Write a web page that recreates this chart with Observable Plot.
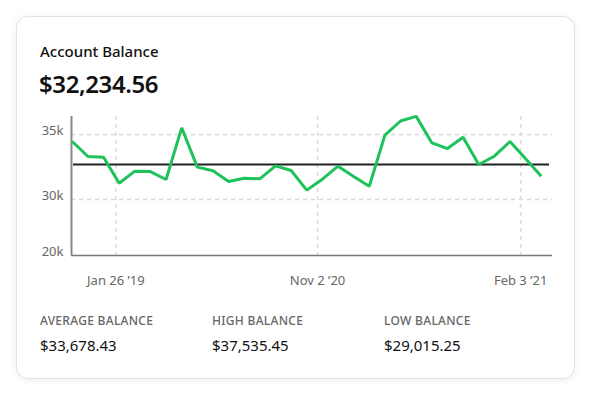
<!DOCTYPE html>
<html><head><meta charset="utf-8">
<script src="https://cdn.jsdelivr.net/npm/d3@7"></script>
<script src="https://cdn.jsdelivr.net/npm/@observablehq/plot@0.6"></script>
<style>
  html, body { margin: 0; padding: 0; background: #fff; width: 592px; height: 396px; overflow: hidden; font-family: "Noto Sans", sans-serif; }
  #card { position: absolute; left: 16px; top: 16px; width: 557px; height: 361px; border: 1px solid #e2e2e2; border-radius: 12px; box-shadow: 0 1px 8px rgba(0,0,0,0.07); background: #fff; }
  #title { position: absolute; left: 40px; top: 41px; font-size: 15px; font-weight: 500; color: #111; }
  #amount { position: absolute; left: 39px; top: 67px; font-size: 24px; font-weight: 600; color: #111; letter-spacing: -0.4px; }
  #chart { position: absolute; left: 0; top: 100px; }
  .stat-label { position: absolute; top: 312px; font-size: 12px; font-weight: 500; color: #666; letter-spacing: 0.3px; }
  .stat-value { position: absolute; top: 335px; font-size: 15px; color: #111; }
</style></head>
<body>
<div id="card"></div>
<div id="title"></div>
<div id="amount"></div>
<div id="chart"></div>
<div id="stats"></div>
<script>
const titleText = "Account Balance";
const currentBalance = "$32,234.56";
const balances = [34460, 33310, 33250, 31250, 32180, 32150, 31540, 35520, 32490, 32210,
                  31390, 31640, 31590, 32590, 32230, 30720, 31560, 32560, 31770, 31020,
                  34950, 36050, 36410, 34360, 33920, 34790, 32690, 33330, 34460, 33130, 31790];
const averageLevel = 32690;
const xTickPositions = [2.79, 15.69, 28.68];
const xTickLabels = ["Jan 26 \u201919", "Nov 2 \u201920", "Feb 3 \u201921"];
const yTicks = [20000, 30000, 35000];
const yDomain = [20000, 30000, 35000, 36400];
const statLabels = ["AVERAGE BALANCE", "HIGH BALANCE", "LOW BALANCE"];
const statValues = ["$33,678.43", "$37,535.45", "$29,015.25"];

document.getElementById("title").textContent = titleText;
document.getElementById("amount").textContent = currentBalance;

const statX = [40, 212, 384];
const statsDiv = document.getElementById("stats");
statLabels.forEach((l, i) => {
  const a = document.createElement("div"); a.className = "stat-label"; a.style.left = statX[i] + "px"; a.textContent = l; statsDiv.appendChild(a);
  const b = document.createElement("div"); b.className = "stat-value"; b.style.left = statX[i] + "px"; b.textContent = statValues[i]; statsDiv.appendChild(b);
});

const data = balances.map((v, i) => ({i, v}));
const H = 195, mt = 16, mb = 40;
const plot = Plot.plot({
  width: 592, height: H,
  marginLeft: 71, marginRight: 40, marginTop: mt, marginBottom: mb,
  style: {fontFamily: "Noto Sans, sans-serif", fontSize: "13px", background: "transparent", overflow: "visible"},
  x: {domain: [-0.05, 30.72], axis: null, label: null},
  y: {type: "linear", domain: yDomain, range: [H - mb, 99, 34, mt], axis: null, label: null},
  marks: [
    Plot.gridY(yTicks.slice(1), {stroke: "#d8d8d8", strokeOpacity: 1, strokeDasharray: "4,4", strokeWidth: 1.5}),
    Plot.gridX(xTickPositions, {stroke: "#dcdcdc", strokeOpacity: 1, strokeDasharray: "4,4", strokeWidth: 1.5}),
    Plot.axisY(yTicks, {label: null, tickSize: 0, tickPadding: 8, dy: -4, fill: "#666", tickFormat: d => d / 1000 + "k", fontSize: 13}),
    Plot.axisX(xTickPositions, {label: null, tickSize: 0, tickPadding: 20, fill: "#666", tickFormat: d => xTickLabels[xTickPositions.indexOf(d)], fontSize: 13}),
    Plot.ruleX([-0.05], {stroke: "#888", strokeWidth: 2}),
    Plot.ruleY([20000], {stroke: "#777", strokeWidth: 1.5}),
    Plot.ruleY([averageLevel], {stroke: "#222", strokeWidth: 2, insetLeft: 2, insetRight: 3}),
    Plot.line(data, {x: "i", y: "v", stroke: "#1ec25a", strokeWidth: 3, strokeLinejoin: "miter", strokeLinecap: "butt"})
  ]
});
document.getElementById("chart").appendChild(plot);
</script>
</body></html>
